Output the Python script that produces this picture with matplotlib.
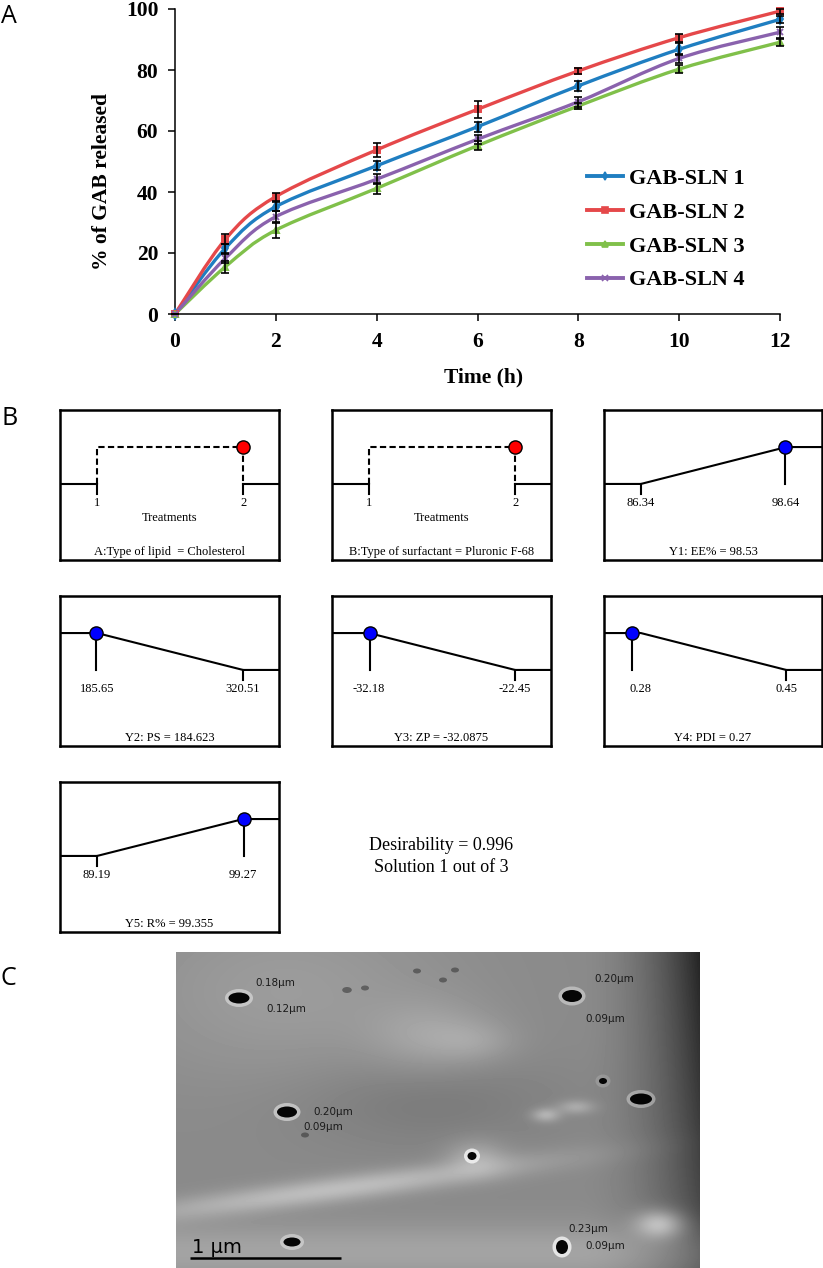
import numpy as np
import matplotlib
matplotlib.use('Agg')
import matplotlib.pyplot as plt
from matplotlib.path import Path
from matplotlib.patches import PathPatch, Ellipse
from matplotlib.lines import Line2D

# ---------------- Panel A data ----------------
time_h = [0, 1, 2, 4, 6, 8, 10, 12]
series_names = ['GAB-SLN 1', 'GAB-SLN 2', 'GAB-SLN 3', 'GAB-SLN 4']
sln1 = [0, 21.6, 35.2, 48.6, 61.4, 74.8, 86.8, 96.6]
sln2 = [0, 24.5, 38.5, 53.8, 67.1, 79.7, 90.6, 99.3]
sln3 = [0, 15.5, 27.5, 41.2, 55.2, 68.2, 80.3, 89.1]
sln4 = [0, 18.3, 31.9, 44.2, 57.3, 69.6, 83.8, 92.4]
err1 = [0, 1.5, 1.5, 1.5, 1.6, 1.6, 2.0, 1.1]
err2 = [0, 1.6, 1.3, 2.2, 2.8, 1.1, 1.3, 0.8]
err3 = [0, 2.0, 2.5, 1.9, 1.4, 1.0, 1.3, 1.1]
err4 = [0, 1.5, 1.8, 1.6, 1.5, 1.6, 1.4, 1.8]
y_ticks = [0, 20, 40, 60, 80, 100]
x_ticks = [0, 2, 4, 6, 8, 10, 12]
series_colors = ['#1f7ec1', '#e5484a', '#80c04a', '#8a62ad']
series_markers = ['d', 's', '^', 'x']

# ---------------- Panel B data ----------------
factor_titles = ['A:Type of lipid  = Cholesterol', 'B:Type of surfactant = Pluronic F-68']
factor_levels = [1, 2]
factor_choice = [2, 2]
response_names = ['Y1: EE%', 'Y2: PS', 'Y3: ZP', 'Y4: PDI', 'Y5: R%']
response_low = [86.34, 185.65, -32.18, 0.28, 89.19]
response_high = [98.64, 320.51, -22.45, 0.45, 99.27]
response_pred = [98.53, 184.623, -32.0875, 0.27, 99.355]
response_goal = ['max', 'min', 'min', 'min', 'max']
desirability = 0.996
solution_no, solution_total = 1, 3

# ---------------- Panel C data ----------------
particle_x = [63, 396, 111, 427, 465, 296, 116, 386]
particle_y = [46, 44, 160, 129, 147, 204, 290, 295]
particle_w = [21, 20, 20, 8, 22, 9, 17, 12]
particle_h = [11, 12, 11, 6, 11, 8, 9, 14]
particle_halo = [0.55, 0.5, 0.6, 0.2, 0.45, 0.9, 0.5, 0.9]
spot_x = [171, 189, 241, 267, 279, 129]
spot_y = [38, 36, 19, 28, 18, 183]
spot_s = [6, 5, 5, 5, 5, 5]
size_labels = ['0.18μm', '0.12μm', '0.20μm', '0.09μm', '0.20μm', '0.09μm', '0.23μm', '0.09μm']
size_label_x = [99, 110, 438, 429, 157, 147, 412, 429]
size_label_y = [31, 57, 27, 67, 160, 175, 277, 294]

W, H = 823, 1268
plt.rcParams['font.family'] = ['Liberation Serif', 'DejaVu Serif']
fig = plt.figure(figsize=(W / 100, H / 100), dpi=100)


def px_axes(left, top, w, h):
    return fig.add_axes([left / W, 1 - (top + h) / H, w / W, h / H])


def smooth_path(xs, ys):
    pts = np.column_stack([xs, ys]).astype(float)
    n = len(pts)
    verts = [pts[0]]
    codes = [Path.MOVETO]
    for i in range(n - 1):
        p_prev = pts[max(i - 1, 0)]
        p0 = pts[i]
        p1 = pts[i + 1]
        p_next = pts[min(i + 2, n - 1)]
        c1 = p0 + (p1 - p_prev) / 6.0
        c2 = p1 - (p_next - p0) / 6.0
        verts += [c1, c2, p1]
        codes += [Path.CURVE4] * 3
    return Path(verts, codes)


# ================= Panel A =================
ax = px_axes(175, 9, 605, 305)
series = [sln1, sln2, sln3, sln4]
errs = [err1, err2, err3, err4]
for vals, e, c, m in zip(series, errs, series_colors, series_markers):
    patch = PathPatch(smooth_path(time_h, vals), facecolor='none', edgecolor=c,
                      lw=2.4, transform=ax.transData, clip_on=False, zorder=3)
    ax.add_patch(patch)
    ax.plot(time_h, vals, linestyle='none', marker=m, color=c, markersize=5,
            mew=1.4, clip_on=False, zorder=4)
for vals, e in zip(series, errs):
    ax.errorbar(time_h, vals, yerr=e, fmt='none', ecolor='black', elinewidth=1.2,
                capsize=3.2, capthick=1.2, clip_on=False, zorder=5)

ax.set_xlim(0, 12)
ax.set_ylim(0, 100)
ax.set_xticks(x_ticks)
ax.set_yticks(y_ticks)
ax.spines['top'].set_visible(False)
ax.spines['right'].set_visible(False)
for s in ['left', 'bottom']:
    ax.spines[s].set_linewidth(1.1)
ax.tick_params(axis='both', direction='out', length=5, width=1.1, labelsize=15.5)
ax.tick_params(axis='y', pad=7)
ax.tick_params(axis='x', pad=8)
for lab in ax.get_xticklabels() + ax.get_yticklabels():
    lab.set_fontweight('bold')
ax.set_ylabel('% of GAB released', fontsize=15.5, fontweight='bold')
ax.set_xlabel('Time (h)', fontsize=15.5, fontweight='bold')
ax.yaxis.set_label_coords(-0.104, 0.436)
ax.xaxis.set_label_coords(0.51, -0.175)

handles = [Line2D([], [], color=c, lw=2.8, marker=m, markersize=4, mew=1.2)
           for c, m in zip(series_colors, series_markers)]
ax.legend(handles, series_names, loc='upper left', bbox_to_anchor=(0.681, 0.478),
          frameon=False, prop={'weight': 'bold', 'size': 16}, handlelength=1.6,
          handletextpad=0.3, labelspacing=0.6, borderpad=0, borderaxespad=0)

# ================= Panel B =================
col_left = [60, 332, 604]
col_w = [219, 219, 218]
row_top = [410, 596, 782]
box_h = 150
LOW_Y, HIGH_Y, TICK_Y, NUM_Y, TREAT_Y, TITLE_Y = 0.507, 0.753, 0.44, 0.38, 0.28, 0.055
X_LO, X_HI = 0.169, 0.836
LW = 1.5
FS = 9


def make_box(r, c, lo, hi):
    b = px_axes(col_left[c], row_top[r], col_w[c], box_h)
    span = (hi - lo) / (X_HI - X_LO)
    x0 = lo - X_LO * span
    b.set_xlim(x0, x0 + span)
    b.set_ylim(0, 1)
    b.set_xticks([])
    b.set_yticks([])
    for s in b.spines.values():
        s.set_linewidth(1.8)
    return b, x0, x0 + span


slots = [(0, 0), (0, 1), (0, 2), (1, 0), (1, 1), (1, 2), (2, 0)]

# factor boxes
for k in range(2):
    r, c = slots[k]
    lo, hi = factor_levels
    b, x0, x1 = make_box(r, c, lo, hi)
    b.plot([x0, lo], [LOW_Y, LOW_Y], color='k', lw=LW)
    b.plot([hi, x1], [LOW_Y, LOW_Y], color='k', lw=LW)
    for lv in factor_levels:
        b.plot([lv, lv], [LOW_Y, TICK_Y], color='k', lw=LW)
        b.text(lv, NUM_Y, f'{lv}', ha='center', va='center', fontsize=FS)
    b.plot([lo, lo, hi, hi], [LOW_Y, HIGH_Y, HIGH_Y, LOW_Y], color='k', lw=LW,
           dashes=(3, 1.6))
    b.plot([factor_choice[k]], [HIGH_Y], 'o', color='#ff0000', mec='k', mew=1.0,
           markersize=9.5, clip_on=False, zorder=5)
    b.text((lo + hi) / 2, TREAT_Y, 'Treatments', ha='center', va='center', fontsize=FS)
    b.text(0.5, TITLE_Y, factor_titles[k], ha='center', va='center', fontsize=FS,
           transform=b.transAxes)

# response boxes
for k in range(5):
    r, c = slots[k + 2]
    lo, hi, pv, goal = response_low[k], response_high[k], response_pred[k], response_goal[k]
    b, x0, x1 = make_box(r, c, lo, hi)
    if goal == 'max':
        b.plot([x0, lo, hi, x1], [LOW_Y, LOW_Y, HIGH_Y, HIGH_Y], color='k', lw=LW)
        b.plot([lo, lo], [LOW_Y, TICK_Y], color='k', lw=LW)
        d = (pv - lo) / (hi - lo)
    else:
        b.plot([x0, lo, hi, x1], [HIGH_Y, HIGH_Y, LOW_Y, LOW_Y], color='k', lw=LW)
        b.plot([hi, hi], [LOW_Y, TICK_Y], color='k', lw=LW)
        d = (hi - pv) / (hi - lo)
    d = min(max(d, 0), 1)
    yd = LOW_Y + d * (HIGH_Y - LOW_Y)
    b.plot([pv, pv], [yd, LOW_Y], color='k', lw=LW)
    b.plot([pv], [yd], 'o', color='#0000ff', mec='k', mew=1.0, markersize=9.5,
           clip_on=False, zorder=5)
    b.text(lo, NUM_Y, f'{lo:g}', ha='center', va='center', fontsize=FS)
    b.text(hi, NUM_Y, f'{hi:g}', ha='center', va='center', fontsize=FS)
    b.text(0.5, TITLE_Y, f'{response_names[k]} = {pv:g}', ha='center', va='center',
           fontsize=FS, transform=b.transAxes)

fig.text(441 / W, 1 - 846 / H, f'Desirability = {desirability:g}', ha='center',
         va='center', fontsize=13)
fig.text(441 / W, 1 - 868 / H, f'Solution {solution_no} out of {solution_total}',
         ha='center', va='center', fontsize=13)

# ================= Panel C =================
IW, IH = 524, 316
axc = px_axes(176, 952, IW, IH)
U, V = np.meshgrid(np.arange(IW) + 0.5, np.arange(IH) + 0.5)


def blob(cu, cv, su, sv):
    return np.exp(-((U - cu) / su) ** 2 - ((V - cv) / sv) ** 2)


bg = (0.54
      + 0.07 * blob(110, 40, 160, 90)
      + 0.09 * blob(255, 85, 60, 35)
      + 0.06 * blob(300, 90, 40, 20)
      - 0.06 * blob(250, 150, 130, 45)
      + 0.20 * np.exp(-((V - (258 - 0.13 * U)) / 13) ** 2) * np.exp(-((U - 160) / 200) ** 2)
      + 0.10 * np.exp(-((V - 300) / 28) ** 2)
      + 0.28 * blob(484, 272, 24, 14)
      + 0.18 * blob(370, 163, 14, 7)
      + 0.14 * blob(400, 155, 18, 7)
      + 0.12 * blob(300, 205, 30, 18)
      - 0.40 * np.clip((U - 400) / 124, 0, 1) ** 2 * (1 - 0.45 * V / IH))
bg = np.clip(bg, 0, 1)
axc.imshow(bg, cmap='gray', vmin=0, vmax=1, aspect='auto', extent=(0, IW, IH, 0),
           interpolation='bilinear')
for x, y, s in zip(spot_x, spot_y, spot_s):
    axc.add_patch(Ellipse((x, y), s * 1.6, s, facecolor='#3a3a3a', edgecolor='none', alpha=0.6))
for x, y, w, h, hl in zip(particle_x, particle_y, particle_w, particle_h, particle_halo):
    axc.add_patch(Ellipse((x, y), w + 7, h + 7, facecolor='white', edgecolor='none', alpha=hl * 0.8))
    axc.add_patch(Ellipse((x, y), w, h, facecolor='#050505', edgecolor='none'))
for t, x, y in zip(size_labels, size_label_x, size_label_y):
    axc.text(x, y, t, ha='center', va='center', fontsize=7.5, color='#1a1a1a',
             family=['DejaVu Sans'])
axc.plot([14, 165], [306, 306], color='black', lw=1.8, solid_capstyle='butt')
axc.text(16, 301, '1 μm', ha='left', va='baseline', fontsize=14, color='black',
         family=['DejaVu Sans'])
axc.set_xlim(0, IW)
axc.set_ylim(IH, 0)
axc.axis('off')

# panel letters
for letter, base in zip(['A', 'B', 'C'], [23, 425, 985]):
    fig.text(1 / W, 1 - base / H, letter, ha='left', va='baseline', fontsize=18,
             family=['Open Sans', 'DejaVu Sans'])

fig.savefig('out.png', dpi=100)
